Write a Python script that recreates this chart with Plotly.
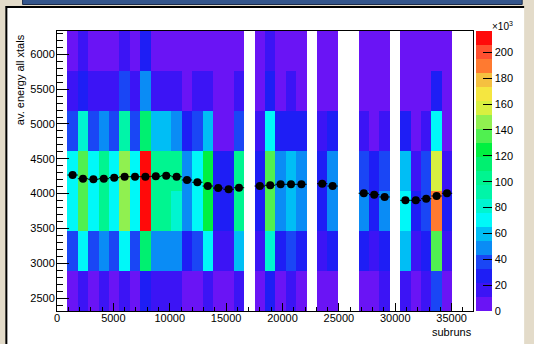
import plotly.graph_objects as go

# ---------------- data ----------------
bin_width = 922.5          # subruns per x bin
n_xbins = 40               # x bins from 0 to 36900
y_edges = [2315, 2889, 3464, 4038, 4612, 5186, 5761, 6335]

# entries per cell in thousands (rows from low to high energy), None = empty bin
row0 = [None, 5, 16, 5, 16, 5, 16, 5, 27, 16, 16, 16, 5, 5, 16, 5, 5, 16, None, 5, 27, 5, 16, 5, None, 5, 5, None, None, 5, 5, 16, None, 16, 5, 16, 38, 5, None, None]
row1 = [None, 38, 70, 38, 49, 38, 70, 38, 114, 49, 49, 49, 27, 38, 70, 16, 16, 60, None, 16, 81, 27, 38, 27, None, 16, 27, None, None, 27, 16, 27, None, 60, 16, 27, 135, 16, None, None]
row2 = [None, 70, 135, 70, 103, 70, 146, 70, 211, 103, 103, 81, 49, 70, 124, 27, 27, 103, None, 27, 135, 49, 60, 49, None, 27, 49, None, None, 49, 27, 49, None, 70, 27, 38, 189, 27, None, None]
row3 = [None, 70, 135, 70, 103, 70, 146, 70, 211, 103, 103, 103, 49, 70, 124, 27, 27, 103, None, 27, 135, 49, 60, 49, None, 27, 49, None, None, 38, 27, 38, None, 60, 16, 38, 157, 16, None, None]
row4 = [None, 38, 81, 38, 49, 38, 92, 38, 114, 60, 60, 49, 27, 38, 60, 5, 5, 38, None, 16, 70, 27, 27, 27, None, 16, 27, None, None, 16, 5, 16, None, 27, 5, 16, 70, 5, None, None]
row5 = [None, 16, 27, 16, 16, 16, 38, 16, 49, 16, 16, 16, 5, 16, 16, 5, 5, 16, None, 5, 27, 5, 16, 5, None, 5, 5, None, None, 5, 5, 5, None, 5, 5, 5, 27, 5, None, None]
row6 = [None, 5, 16, 5, 5, 5, 16, 5, 27, 5, 5, 5, 5, 5, 5, 5, 5, 5, None, 5, 16, 5, 5, 5, None, 5, 5, None, None, 5, 5, 5, None, 5, 5, 5, 5, 5, None, None]

# profile (mean energy per subrun bin)
prof_bins = [1, 2, 3, 4, 5, 6, 7, 8, 9, 10, 11, 12, 13, 14, 15, 16, 17,
             19, 20, 21, 22, 23, 25, 26, 29, 30, 31, 33, 34, 35, 36, 37]
prof_vals = [4267, 4214, 4206, 4214, 4229, 4243, 4243, 4243, 4249, 4257, 4243, 4196, 4163, 4109, 4080, 4062, 4085,
             4109, 4120, 4134, 4134, 4134, 4143, 4109, 4005, 3985, 3952, 3904, 3904, 3927, 3966, 4005]

z_max = 216.5
cbar_ticks = [0, 20, 40, 60, 80, 100, 120, 140, 160, 180, 200]
palette = ["#6a14f5", "#3c14f5", "#1e1ef5", "#1a46f5", "#0a8cf5", "#00bef5", "#00f8f8",
           "#00f5d0", "#00f5a8", "#00f590", "#00f070", "#00f040", "#50f050", "#90f050",
           "#d8f040", "#f5e640", "#f5c040", "#ff7a30", "#ff5030", "#ff0a0a"]

# ---------------- figure ----------------
W, H = 534, 344
L, R, T, B = 57, 54, 31, 33
pw, ph = W - L - R, H - T - B

def px(x):
    return (x - L) / pw

def py(y):
    return (H - B - y) / ph

x_edges = [i * bin_width for i in range(n_xbins + 1)]
prof_x = [(b + 0.5) * bin_width for b in prof_bins]

n = len(palette)
cscale = []
for i, c in enumerate(palette):
    cscale.append([i / n, c])
    cscale.append([(i + 1) / n, c])

font = "Liberation Sans, Arial, Helvetica, sans-serif"

fig = go.Figure()
fig.add_trace(go.Heatmap(
    x=x_edges, y=y_edges, z=[row0, row1, row2, row3, row4, row5, row6],
    zmin=0, zmax=z_max, colorscale=cscale, zsmooth=False, hoverongaps=False,
    colorbar=dict(x=px(482.7), xanchor="left", y=0.5, yanchor="middle",
                  len=280, lenmode="pixels", thickness=16, thicknessmode="pixels",
                  xpad=0, ypad=0, outlinewidth=0, ticks="inside", ticklen=9,
                  tickcolor="black", tickwidth=1, tickvals=cbar_ticks,
                  ticktext=[str(v) for v in cbar_ticks],
                  tickfont=dict(size=11, color="black", family=font)),
))
fig.add_trace(go.Scatter(
    x=prof_x, y=prof_vals, mode="markers",
    marker=dict(color="black", size=8),
    error_x=dict(type="constant", value=bin_width / 2, color="black", thickness=1, width=0),
    showlegend=False,
))

axis_common = dict(showline=True, linecolor="black", linewidth=1, mirror=True,
                   ticks="inside", tickcolor="black", tickwidth=1, showgrid=False,
                   zeroline=False, tickfont=dict(size=11, color="black", family=font))
fig.update_xaxes(range=[0, n_xbins * bin_width], tick0=0, dtick=5000, ticklen=8,
                 minor=dict(ticks="inside", ticklen=4, dtick=1000, tickcolor="black"),
                 tickformat="d", ticklabelstandoff=-3, **axis_common)
fig.update_yaxes(range=[y_edges[0], y_edges[-1]], tick0=0, dtick=500, ticklen=12,
                 minor=dict(ticks="inside", ticklen=6, dtick=100, tickcolor="black"),
                 tickformat="d", ticklabelstandoff=-1, **axis_common)

shapes = [
    # white canvas
    dict(type="rect", xref="paper", yref="paper", x0=px(6), x1=px(532), y0=py(7), y1=py(H + 5),
         fillcolor="white", line=dict(width=0), layer="below"),
    # black canvas border (left/top)
    dict(type="line", xref="paper", yref="paper", x0=px(5.5), x1=px(5.5), y0=py(6), y1=py(H + 5),
         line=dict(color="black", width=2), layer="below"),
    dict(type="line", xref="paper", yref="paper", x0=px(5), x1=px(532), y0=py(7), y1=py(7),
         line=dict(color="black", width=2), layer="below"),
    # blue bar at top
    dict(type="rect", xref="paper", yref="paper", x0=px(22), x1=px(530), y0=py(-3), y1=py(4.5),
         fillcolor="#35568c", line=dict(color="#1b2b4a", width=1), layer="below"),
]

annotations = [
    dict(text="av. energy all xtals", textangle=-90, xref="paper", yref="paper",
         x=px(19), y=py(32), xanchor="center", yanchor="top", showarrow=False,
         font=dict(size=11, color="black", family=font)),
    dict(text="subruns", xref="paper", yref="paper", x=px(481), y=py(332),
         xanchor="right", yanchor="middle", showarrow=False,
         font=dict(size=11, color="black", family=font)),
    dict(text="×10<sup>3</sup>", xref="paper", yref="paper", x=px(497), y=py(26),
         xanchor="left", yanchor="middle", showarrow=False,
         font=dict(size=10, color="black", family=font)),
]

fig.update_layout(width=W, height=H, autosize=False,
                  margin=dict(l=L, r=R, t=T, b=B, pad=0),
                  paper_bgcolor="#e3dbc9", plot_bgcolor="white",
                  shapes=shapes, annotations=annotations, showlegend=False,
                  font=dict(family=font, size=11, color="black"))

fig.write_html("out.html")
